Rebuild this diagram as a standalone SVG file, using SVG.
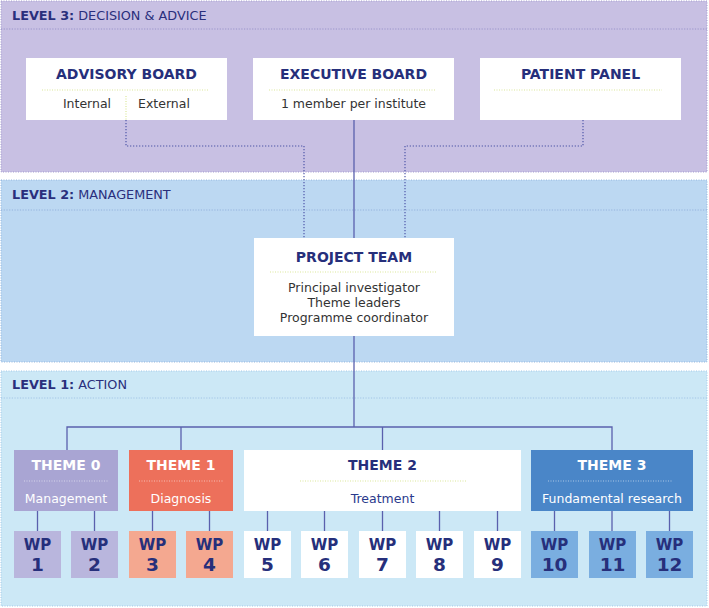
<svg xmlns="http://www.w3.org/2000/svg" width="709" height="608" viewBox="0 0 709 608">
<style>
text{font-family:"DejaVu Sans","Verdana",sans-serif}
.lvl{font-size:12.8px;fill:#2a2f7c}
.lvl tspan.b{font-weight:bold}
.title{font-size:14px;font-weight:bold;fill:#262f7b;text-anchor:middle}
.ttl{font-size:14px;font-weight:bold;fill:#fff;text-anchor:middle}
.body{font-size:12.5px;fill:#333;text-anchor:middle}
.sub{font-size:12.5px;fill:#fff;text-anchor:middle}
.box{fill:#fff}
.sep{stroke:#dbe89a;stroke-width:1.2;stroke-dasharray:1 1.5;fill:none}
.sepw{stroke:#ffffff;stroke-opacity:.55;stroke-width:1.2;stroke-dasharray:1 1.5;fill:none}
.conn{stroke:#5a60ad;stroke-width:1.3;fill:none}
.dconn{stroke:#4f56a8;stroke-width:1.2;stroke-dasharray:1.3 1.7;fill:none}
.wp{font-weight:bold;fill:#262f7b;text-anchor:middle}
.wpa{font-size:15px}
.wpn{font-size:18.5px}
</style>
<rect width="709" height="608" fill="#fff"/>
<g id="level3">
<rect x="1" y="1" width="706" height="171" fill="#c8c0e3" stroke="#a39bcf" stroke-width="1" stroke-dasharray="1 1.5"/>
<line x1="1" y1="29" x2="707" y2="29" stroke="#8e88c4" stroke-width="0.8" stroke-dasharray="1.2 1.5"/>
<text class="lvl" x="12" y="20"><tspan class="b">LEVEL 3:</tspan> DECISION &amp; ADVICE</text>
</g>
<g id="level2">
<rect x="1" y="180" width="706" height="182" fill="#bcd8f2" stroke="#93b6df" stroke-width="1" stroke-dasharray="1 1.5"/>
<line x1="1" y1="210" x2="707" y2="210" stroke="#8aaad8" stroke-width="0.8" stroke-dasharray="1.2 1.5"/>
<text class="lvl" x="12" y="199"><tspan class="b">LEVEL 2:</tspan> MANAGEMENT</text>
</g>
<g id="level1">
<rect x="1" y="371" width="706" height="235" fill="#cce8f6" stroke="#a3c8e8" stroke-width="1" stroke-dasharray="1 1.5"/>
<line x1="1" y1="398" x2="707" y2="398" stroke="#98bce3" stroke-width="0.8" stroke-dasharray="1.2 1.5"/>
<text class="lvl" x="12" y="389"><tspan class="b">LEVEL 1:</tspan> ACTION</text>
</g>
<g id="connectors">
<path class="dconn" d="M126 120 V146 H304 V238"/>
<path class="dconn" d="M583 120 V146 H405 V238"/>
<path class="conn" d="M354 120 V238"/>
<path class="conn" d="M354 336 V427"/>
<path class="conn" d="M67 450 V427 H612 V450"/>
<path class="conn" d="M181 427 V450"/>
<path class="conn" d="M382.5 427 V450"/>
<path class="conn" d="M37.5 511 V531 M94.5 511 V531 M152.5 511 V531 M209.5 511 V531 M267.5 511 V531 M324.5 511 V531 M382.5 511 V531 M439.5 511 V531 M497.5 511 V531 M554.5 511 V531 M612 511 V531 M669.5 511 V531"/>
</g>
<g id="advisory-board">
<rect class="box" x="26" y="58" width="201" height="62"/>
<text class="title" x="126.5" y="79">ADVISORY BOARD</text>
<line class="sep" x1="42" y1="90" x2="209" y2="90"/>
<text class="body" x="87" y="108">Internal</text>
<text class="body" x="164" y="108">External</text>
<line class="sep" x1="126" y1="96" x2="126" y2="120"/>
</g>
<g id="executive-board">
<rect class="box" x="253" y="58" width="201" height="62"/>
<text class="title" x="353.5" y="79">EXECUTIVE BOARD</text>
<line class="sep" x1="269" y1="90" x2="436" y2="90"/>
<text class="body" x="353.5" y="108">1 member per institute</text>
</g>
<g id="patient-panel">
<rect class="box" x="480" y="58" width="201" height="62"/>
<text class="title" x="580.5" y="79">PATIENT PANEL</text>
<line class="sep" x1="494" y1="90" x2="662" y2="90"/>
</g>
<g id="project-team">
<rect class="box" x="254" y="238" width="200" height="98"/>
<text class="title" x="354" y="262">PROJECT TEAM</text>
<line class="sep" x1="270" y1="272" x2="437" y2="272"/>
<text class="body" x="354" y="292">Principal investigator</text>
<text class="body" x="354" y="307">Theme leaders</text>
<text class="body" x="354" y="322">Programme coordinator</text>
</g>
<g id="theme0">
<rect x="14" y="450" width="104" height="61" fill="#a9a5d3"/>
<text class="ttl" x="66" y="470">THEME 0</text>
<line class="sepw" x1="24" y1="481" x2="108" y2="481"/>
<text class="sub" x="66" y="503">Management</text>
</g>
<g id="theme1">
<rect x="129" y="450" width="104" height="61" fill="#ed705b"/>
<text class="ttl" x="181" y="470">THEME 1</text>
<line class="sepw" x1="139" y1="481" x2="223" y2="481"/>
<text class="sub" x="181" y="503">Diagnosis</text>
</g>
<g id="theme2">
<rect class="box" x="244" y="450" width="277" height="61"/>
<text class="title" x="382.5" y="470">THEME 2</text>
<line class="sep" x1="300" y1="481" x2="467" y2="481"/>
<text class="body" x="382.5" y="503" style="fill:#2a3a8c">Treatment</text>
</g>
<g id="theme3">
<rect x="531" y="450" width="162" height="61" fill="#4a86c8"/>
<text class="ttl" x="612" y="470">THEME 3</text>
<line class="sepw" x1="548" y1="481" x2="673" y2="481"/>
<text class="sub" x="612" y="503">Fundamental research</text>
</g>
<g id="wp1"><rect x="14" y="531" width="47" height="47" fill="#b9b6dd"/><text class="wp wpa" x="37.5" y="549.5">WP</text><text class="wp wpn" x="37.5" y="570.5">1</text></g>
<g id="wp2"><rect x="71" y="531" width="47" height="47" fill="#b9b6dd"/><text class="wp wpa" x="94.5" y="549.5">WP</text><text class="wp wpn" x="94.5" y="570.5">2</text></g>
<g id="wp3"><rect x="129" y="531" width="47" height="47" fill="#f4a890"/><text class="wp wpa" x="152.5" y="549.5">WP</text><text class="wp wpn" x="152.5" y="570.5">3</text></g>
<g id="wp4"><rect x="186" y="531" width="47" height="47" fill="#f4a890"/><text class="wp wpa" x="209.5" y="549.5">WP</text><text class="wp wpn" x="209.5" y="570.5">4</text></g>
<g id="wp5"><rect x="244" y="531" width="47" height="47" fill="#fff"/><text class="wp wpa" x="267.5" y="549.5">WP</text><text class="wp wpn" x="267.5" y="570.5">5</text></g>
<g id="wp6"><rect x="301" y="531" width="47" height="47" fill="#fff"/><text class="wp wpa" x="324.5" y="549.5">WP</text><text class="wp wpn" x="324.5" y="570.5">6</text></g>
<g id="wp7"><rect x="359" y="531" width="47" height="47" fill="#fff"/><text class="wp wpa" x="382.5" y="549.5">WP</text><text class="wp wpn" x="382.5" y="570.5">7</text></g>
<g id="wp8"><rect x="416" y="531" width="47" height="47" fill="#fff"/><text class="wp wpa" x="439.5" y="549.5">WP</text><text class="wp wpn" x="439.5" y="570.5">8</text></g>
<g id="wp9"><rect x="474" y="531" width="47" height="47" fill="#fff"/><text class="wp wpa" x="497.5" y="549.5">WP</text><text class="wp wpn" x="497.5" y="570.5">9</text></g>
<g id="wp10"><rect x="531" y="531" width="47" height="47" fill="#7aaee0"/><text class="wp wpa" x="554.5" y="549.5">WP</text><text class="wp wpn" x="554.5" y="570.5">10</text></g>
<g id="wp11"><rect x="589" y="531" width="47" height="47" fill="#7aaee0"/><text class="wp wpa" x="612.5" y="549.5">WP</text><text class="wp wpn" x="612.5" y="570.5">11</text></g>
<g id="wp12"><rect x="646" y="531" width="47" height="47" fill="#7aaee0"/><text class="wp wpa" x="669.5" y="549.5">WP</text><text class="wp wpn" x="669.5" y="570.5">12</text></g>
</svg>
